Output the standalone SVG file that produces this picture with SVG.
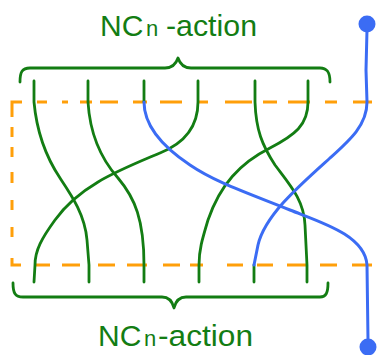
<svg xmlns="http://www.w3.org/2000/svg" width="383" height="355" viewBox="0 0 383 355">
<style>
.dash{fill:none;stroke:#ff9f0a;stroke-width:3}
.g{fill:none;stroke:#137d13;stroke-width:2.8;stroke-linecap:round;stroke-linejoin:round}
.b{fill:none;stroke:#3b6cf4;stroke-width:3;stroke-linecap:round;stroke-linejoin:round}
.lbl{font-family:"Liberation Sans",Arial,sans-serif;font-size:30px;fill:#137d13}
.sub{font-size:22px}
.dot{fill:#3b6cf4}
</style>
<rect width="383" height="355" fill="#ffffff"/>
<g id="box">
<path class="dash" d="M12,117 V102 H22 M37,102 H47 M62,102 H68 M80,102 H92 M100,102 H118 M133,102 H147 M160,102 H182 M198,102 H208 M225,102 H252 M263,102 H277 M288,102 H310 M325,102 H337 M353,102 H372 M12,127 V137 M12,147 V157 M12,172 V183 M12,200 V210 M12,227 V237 M12,258 V265 H21 M35,265 H50 M62,265 H80 M98,265 H115 M127,265 H147 M163,265 H180 M190,265 H203 M227,265 H243 M257,265 H273 M287,265 H307 M320,265 H337 M352,265 H372"/>
</g>
<g id="top-label">
<text class="lbl" x="100" y="36">NC</text>
<text class="lbl sub" x="146" y="36">n</text>
<text class="lbl" x="166" y="36" textLength="91" lengthAdjust="spacingAndGlyphs">-action</text>
</g>
<g id="bottom-label">
<text class="lbl" x="98" y="346">NC</text>
<text class="lbl sub" x="144" y="346">n</text>
<text class="lbl" x="158" y="346" textLength="95" lengthAdjust="spacingAndGlyphs">-action</text>
</g>
<g id="top-brace">
<path class="g" d="M20,82 C20,72 22,68 30,68 L165,68 C172,68 176,64 178,58 C180,64 184,68 191,68 L320,68 C327,68 330,72 330,82"/>
</g>
<g id="bottom-brace">
<path class="g" d="M13,283 C13,293 15,297 23,297 L162,297 C168,297 172,300 174,308 C176,300 180,297 186,297 L320,297 C326,297 328,293 328,283"/>
</g>
<g id="top-dot"><circle class="dot" cx="367" cy="24" r="8.5"/></g>
<g id="bottom-dot"><circle class="dot" cx="368" cy="347" r="8.5"/></g>
<g id="connectors">
<path class="g" d="M34,81 L34,102 C37,135 48,160 60,178 C72,196 85,215 87,240 L89,265 L89,282"/>
<path class="g" d="M88,81 L88,102 C90,135 102,160 118,178 C135,198 144,220 144,265 L144,282"/>
<path class="g" d="M198,81 L198,102 C198,130 180,145 160,153 C120,170 80,185 55,220 C42,238 35,250 35,265 L34,282"/>
<path class="g" d="M255,81 L255,102 C256,130 262,145 275,165 C290,185 304,200 305,225 L307,265 L307,282"/>
<path class="g" d="M308,81 L308,102 C308,125 295,135 270,148 C240,163 220,185 208,220 C202,240 199,250 199,265 L199,282"/>
<path class="g" d="M144,81 L144,102"/>
<path class="g" d="M254,265 L254,282"/>
<path class="b" d="M144,102 C144,125 160,145 190,165 C215,182 245,192 290,210 C320,222 365,235 367,265 L368,340"/>
<path class="b" d="M367,30 L366,70 L367,102 C367,125 350,140 330,158 C300,185 265,215 258,245 L254,265"/>
</g>
</svg>
